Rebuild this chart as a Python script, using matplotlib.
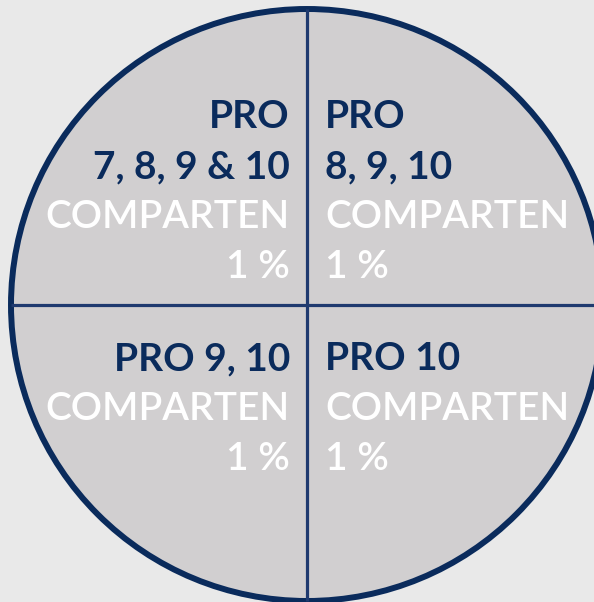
import matplotlib.pyplot as plt
from matplotlib.patches import Circle

# quadrant labels: (navy lines, white lines)
left_top = ["PRO", "7, 8, 9 & 10"]
right_top = ["PRO", "8, 9, 10"]
left_bottom = ["PRO 9, 10"]
right_bottom = ["PRO 10"]
share_word = "COMPARTEN"
share_value = "1 %"

BG = "#e9e9e9"
FILL = "#d1cfd0"
NAVY = "#0a2b5c"
DIVIDER = "#1f3a6f"

CX, CY, R = 307, 305, 296
LINE_GAP = 50

fig = plt.figure(figsize=(5.94, 6.02), dpi=100, facecolor=BG)
ax = fig.add_axes([0, 0, 1, 1])
ax.set_xlim(0, 594)
ax.set_ylim(602, 0)
ax.set_facecolor(BG)
ax.axis("off")

ax.add_patch(Circle((CX, CY), R, facecolor=FILL, edgecolor=NAVY, linewidth=4.3, zorder=1))
ax.plot([CX, CX], [CY - R, CY + R], color=DIVIDER, linewidth=2.3, zorder=2, solid_capstyle="butt")
ax.plot([CX - R, CX + R], [CY, CY], color=DIVIDER, linewidth=2.3, zorder=2, solid_capstyle="butt")


def block(x, y0, navy_lines, ha):
    y = y0
    for s in navy_lines:
        ax.text(x, y, s, ha=ha, va="baseline", fontsize=28, fontfamily="Lato",
                fontweight="bold", color=NAVY, zorder=3)
        y += LINE_GAP
    for s in [share_word, share_value]:
        ax.text(x, y, s, ha=ha, va="baseline", fontsize=28, fontfamily="Lato",
                fontweight="semibold", color="white", zorder=3)
        y += LINE_GAP


block(290, 128, left_top, "right")
block(325, 128, right_top, "left")
block(290, 370, left_bottom, "right")
block(325, 370, right_bottom, "left")

fig.savefig("out.png", dpi=100, facecolor=BG)
